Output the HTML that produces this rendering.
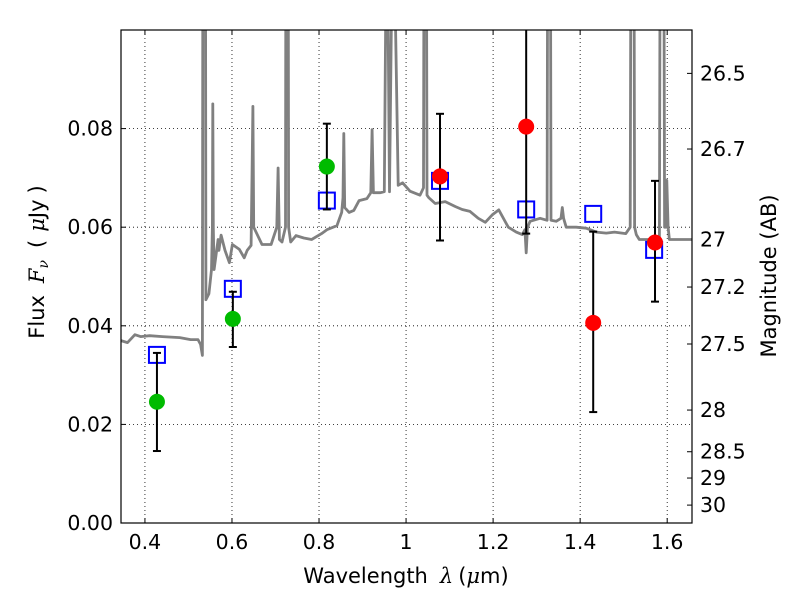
<!DOCTYPE html>
<html><head><meta charset="utf-8"><style>
body{margin:0;background:#fff}
svg text{font-family:"DejaVu Sans","Liberation Sans",sans-serif}
</style></head><body>
<svg id="c" width="800" height="600" xmlns="http://www.w3.org/2000/svg"></svg>
<script>
const xTicks=[0.4,0.6,0.8,1.0,1.2,1.4,1.6];
const xTickLabels=["0.4","0.6","0.8","1","1.2","1.4","1.6"];
const yTicks=[0,0.02,0.04,0.06,0.08];
const yTickLabels=["0.00","0.02","0.04","0.06","0.08"];
const magTicks=[26.5,26.7,27,27.2,27.5,28,28.5,29,30];
const magTickLabels=["26.5","26.7","27","27.2","27.5","28","28.5","29","30"];
const specLam=[0.345,0.360,0.377,0.390,0.411,0.440,0.480,0.505,0.522,0.528,0.532,0.534,0.536,0.538,0.540,0.547,0.553,0.555,0.556,0.557,0.559,0.568,0.570,0.575,0.584,0.594,0.601,0.617,0.628,0.635,0.644,0.646,0.648,0.650,0.669,0.690,0.703,0.706,0.709,0.715,0.723,0.725,0.728,0.730,0.735,0.747,0.765,0.783,0.806,0.818,0.841,0.852,0.855,0.857,0.859,0.869,0.880,0.892,0.910,0.919,0.922,0.925,0.941,0.950,0.953,0.956,0.959,0.962,0.966,0.969,0.973,0.976,0.982,0.992,1.009,1.032,1.040,1.043,1.045,1.048,1.052,1.067,1.090,1.113,1.129,1.147,1.166,1.182,1.198,1.213,1.235,1.253,1.267,1.273,1.276,1.279,1.285,1.308,1.324,1.327,1.330,1.333,1.345,1.356,1.359,1.362,1.368,1.391,1.414,1.437,1.460,1.479,1.505,1.515,1.519,1.522,1.525,1.529,1.536,1.570,1.582,1.586,1.590,1.594,1.597,1.599,1.602,1.605,1.620,1.657];
const specFlux=[0.0370,0.0366,0.0382,0.0378,0.0380,0.0378,0.0376,0.0372,0.0372,0.0362,0.0340,0.2,0.2,0.2,0.0453,0.0465,0.0514,0.060,0.0850,0.060,0.0514,0.0575,0.0553,0.0584,0.0553,0.0528,0.0565,0.0555,0.0538,0.0553,0.0563,0.070,0.0845,0.060,0.0565,0.0565,0.060,0.0720,0.0575,0.0570,0.060,0.2,0.2,0.060,0.0570,0.0583,0.0578,0.0575,0.0587,0.0595,0.0603,0.0630,0.066,0.0790,0.064,0.0630,0.0634,0.0654,0.0658,0.067,0.0798,0.067,0.0670,0.0672,0.10,0.2,0.10,0.0672,0.10,0.2,0.2,0.10,0.0685,0.0690,0.0673,0.0665,0.0680,0.2,0.2,0.0665,0.0660,0.0648,0.0652,0.0642,0.0636,0.0632,0.0618,0.0610,0.0625,0.0635,0.0600,0.0590,0.0585,0.0595,0.0548,0.0600,0.0612,0.0618,0.0614,0.2,0.2,0.0614,0.0612,0.0618,0.0640,0.0618,0.0600,0.0600,0.0598,0.0590,0.0588,0.0590,0.0587,0.060,0.2,0.2,0.060,0.0585,0.0575,0.0575,0.058,0.2,0.2,0.060,0.060,0.0695,0.060,0.0575,0.0575,0.0575];
const detLam=[0.4276,0.602,0.818];
const detFlux=[0.0246,0.0414,0.0723];
const detLo=[0.0146,0.0357,0.0636];
const detHi=[0.0345,0.0469,0.0810];
const ulLam=[1.078,1.276,1.430,1.572];
const ulFlux=[0.0703,0.0804,0.0406,0.0569];
const ulLo=[0.0573,0.0587,0.0225,0.0449];
const ulHi=[0.0830,0.13,0.0591,0.0694];
const modLam=[0.4276,0.602,0.818,1.078,1.276,1.430,1.570];
const modFlux=[0.0341,0.0475,0.0654,0.0694,0.0636,0.0627,0.0554];

const L=121,R=692,T=30,B=523,xmin=0.345,xmax=1.657,ymin=0,ymax=0.1;
const X=v=>L+(v-xmin)/(xmax-xmin)*(R-L);
const Y=v=>B-(v-ymin)/(ymax-ymin)*(B-T);
const MY=m=>Y(Math.pow(10,(23.9-m)/2.5));
const svg=document.getElementById('c');
const NS='http://www.w3.org/2000/svg';
function mk(tag,attrs,parent){const e=document.createElementNS(NS,tag);for(const k in attrs)e.setAttribute(k,attrs[k]);(parent||svg).appendChild(e);return e;}
const defs=mk('defs',{});const cp=mk('clipPath',{id:'pc'},defs);mk('rect',{x:L,y:T,width:R-L,height:B-T},cp);
xTicks.forEach((t,i)=>{
 const g=mk('line',{x1:X(t),x2:X(t),y1:T,y2:B,stroke:'#000','stroke-width':0.8,'stroke-dasharray':'1,3'});
 
 mk('line',{x1:X(t),x2:X(t),y1:B,y2:B-5,stroke:'#000'});
 mk('line',{x1:X(t),x2:X(t),y1:T,y2:T+5,stroke:'#000'});
 const tx=mk('text',{x:X(t),y:B+26,'font-size':20.5,'text-anchor':'middle'});tx.textContent=xTickLabels[i];
 
});
yTicks.forEach((t,i)=>{
 const g=mk('line',{x1:L,x2:R,y1:Y(t),y2:Y(t),stroke:'#000','stroke-width':0.8,'stroke-dasharray':'1,3'});
 
 mk('line',{x1:L,x2:L+5,y1:Y(t),y2:Y(t),stroke:'#000'});
 const tx=mk('text',{x:L-8,y:Y(t)+7,'font-size':20.5,'text-anchor':'end'});tx.textContent=yTickLabels[i];
 
});
magTicks.forEach((m,i)=>{
 mk('line',{x1:R,x2:R-5,y1:MY(m),y2:MY(m),stroke:'#000'});
 const tx=mk('text',{x:R+8,y:MY(m)+7,'font-size':20.5});tx.textContent=magTickLabels[i];
 
});
const gp=mk('g',{'clip-path':'url(#pc)'});
let d='';specLam.forEach((l,i)=>{d+=(i?'L':'M')+X(l).toFixed(1)+','+Y(specFlux[i]).toFixed(1);});
const sp=mk('path',{d:d,fill:'none',stroke:'#808080','stroke-width':2.8,'stroke-linejoin':'round'},gp);

modLam.forEach((l,i)=>{
 const r=mk('rect',{x:X(l)-8,y:Y(modFlux[i])-8,width:16,height:16,fill:'none',stroke:'#0000ff','stroke-width':2},gp);
 
});
function errbar(l,lo,hi){
 const x=X(l);
 const e=mk('line',{x1:x,x2:x,y1:Y(lo),y2:Y(hi),stroke:'#000','stroke-width':2},gp);
 
 mk('line',{x1:x-4,x2:x+4,y1:Y(lo),y2:Y(lo),stroke:'#000','stroke-width':2},gp);
 mk('line',{x1:x-4,x2:x+4,y1:Y(hi),y2:Y(hi),stroke:'#000','stroke-width':2},gp);
}
detLam.forEach((l,i)=>{
 errbar(l,detLo[i],detHi[i]);
 const c=mk('circle',{cx:X(l),cy:Y(detFlux[i]),r:8,fill:'#00bb00'},gp);
 
});
ulLam.forEach((l,i)=>{
 errbar(l,ulLo[i],ulHi[i]);
 const c=mk('circle',{cx:X(l),cy:Y(ulFlux[i]),r:8,fill:'#ff0000'},gp);
 
});
const fr=mk('rect',{x:L,y:T,width:R-L,height:B-T,fill:'none',stroke:'#000','stroke-width':1.2});

</script>
<svg width="800" height="600" style="position:absolute;left:0;top:0" xmlns="http://www.w3.org/2000/svg">
<text x="406" y="583" font-size="21" text-anchor="middle" font-family="DejaVu Sans, sans-serif">Wavelength<tspan dx="12" font-family="DejaVu Serif, serif" font-style="italic">λ</tspan><tspan dx="5">(</tspan><tspan font-family="DejaVu Serif, serif" font-style="italic">μ</tspan>m)</text>
<text transform="translate(44,262) rotate(-90)" font-size="21" text-anchor="middle" font-family="DejaVu Sans, sans-serif">Flux<tspan dx="12" font-family="DejaVu Serif, serif" font-style="italic">F</tspan><tspan font-family="DejaVu Serif, serif" font-style="italic" font-size="14" dy="4">ν</tspan><tspan dy="-4" dx="12">(</tspan><tspan dx="8" font-family="DejaVu Serif, serif" font-style="italic">μ</tspan>Jy<tspan dx="6">)</tspan></text>
<text transform="translate(776,276) rotate(-90)" font-size="21" text-anchor="middle" font-family="DejaVu Sans, sans-serif">Magnitude (AB)</text>
</svg>
</body></html>
